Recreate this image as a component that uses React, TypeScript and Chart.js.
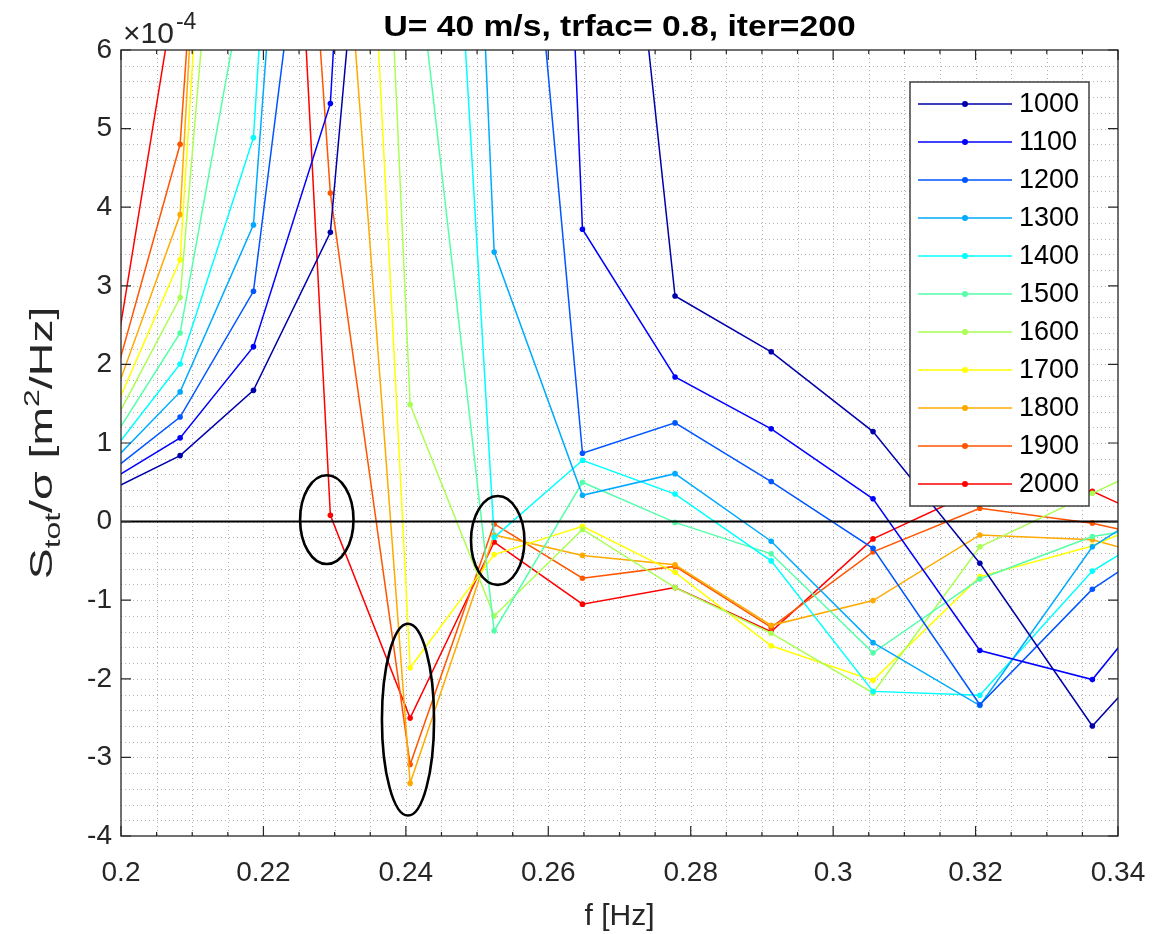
import React, { useEffect, useRef } from "react";
import { Chart, registerables } from "chart.js";

Chart.register(...registerables);

// Frequency bins [Hz]
const frequencies = [0.1985, 0.2083, 0.2186, 0.2294, 0.2406, 0.2524, 0.2648, 0.2778, 0.2913, 0.3056, 0.3206, 0.3364, 0.3529];

// S_tot / sigma for each case, in units of 1e-4 m^2/Hz
const s1000 = [0.40, 0.84, 1.67, 3.68, 15.0, 20.0, 13.9, 2.87, 2.16, 1.145, -0.53, -2.60, -0.96];
const s1100 = [0.525, 1.065, 2.226, 5.32, 23.1, 31.3, 3.72, 1.84, 1.18, 0.29, -1.64, -2.01, -0.17];
const s1200 = [0.632, 1.33, 2.93, 10.7, 18.0, 13.3, 0.87, 1.256, 0.51, -0.34, -2.33, -0.86, 0.13];
const s1300 = [0.735, 1.65, 3.775, 17.0, 28.4, 3.43, 0.335, 0.61, -0.25, -1.54, -2.34, -0.32, 0.62];
const s1400 = [0.855, 2.006, 4.885, 20.3, 18.0, -0.20, 0.78, 0.35, -0.50, -2.16, -2.21, -0.63, 0.29];
const s1500 = [0.996, 2.40, 7.54, 12.0, 7.96, -1.39, 0.50, -0.01, -0.41, -1.67, -0.73, -0.19, 0.05];
const s1600 = [1.164, 2.85, 13.9, 24.1, 1.49, -1.20, -0.10, -0.84, -1.42, -2.18, -0.32, 0.36, 1.06];
const s1700 = [1.29, 3.33, 18.1, 18.0, -1.86, -0.42, -0.06, -0.645, -1.58, -2.02, -0.70, -0.31, 0.33];
const s1800 = [1.446, 3.906, 20.5, 10.3, -3.33, -0.17, -0.43, -0.55, -1.32, -1.005, -0.17, -0.23, -0.64];
const s1900 = [1.616, 4.80, 18.3, 4.18, -3.09, -0.03, -0.72, -0.57, -1.345, -0.385, 0.17, -0.02, -0.36];
const s2000 = [1.69, 7.15, 18.96, 0.08, -2.50, -0.26, -1.05, -0.84, -1.40, -0.22, 0.41, 0.386, -0.30];

const seriesLabels = ["1000", "1100", "1200", "1300", "1400", "1500", "1600", "1700", "1800", "1900", "2000"];
const seriesValues = [s1000, s1100, s1200, s1300, s1400, s1500, s1600, s1700, s1800, s1900, s2000];
// jet(11) colour map
const seriesColors = [
  "#0000AA", "#0000FF", "#0055FF", "#00AAFF", "#00FFFF", "#55FFAA",
  "#AAFF55", "#FFFF00", "#FFAA00", "#FF5500", "#FF0000",
];

// Axes
const xMin = 0.2;
const xMax = 0.34;
const yMin = -4;
const yMax = 6;
const xTicks = [0.2, 0.22, 0.24, 0.26, 0.28, 0.3, 0.32, 0.34];
const xTickLabels = ["0.2", "0.22", "0.24", "0.26", "0.28", "0.3", "0.32", "0.34"];
const yTicks = [-4, -3, -2, -1, 0, 1, 2, 3, 4, 5, 6];
const yTickLabels = ["-4", "-3", "-2", "-1", "0", "1", "2", "3", "4", "5", "6"];
const xMinorStep = 0.005;
const yMinorStep = 0.2;

// Highlight ellipses: centre (f, value) and radii in axis units
const highlightCenters = [
  [0.2289, 0.025],
  [0.2403, -2.52],
  [0.2529, -0.24],
];
const highlightRadii = [
  [0.00375, 0.565],
  [0.00366, 1.22],
  [0.00375, 0.565],
];

const titleText = "U= 40 m/s, trfac= 0.8, iter=200";
const FONT = "'Liberation Sans', Arial, Helvetica, sans-serif";
const INK = "#262626";

const decorPlugin = {
  id: "decor",
  beforeDatasetsDraw(chart: any) {
    const { ctx, chartArea: a, scales } = chart;
    const x = scales.x;
    const y = scales.y;
    ctx.save();
    ctx.strokeStyle = "rgba(38,38,38,0.36)";
    ctx.lineWidth = 1;
    ctx.setLineDash([1, 3]);
    const nx = Math.round((xMax - xMin) / xMinorStep);
    for (let i = 1; i < nx; i++) {
      const px = Math.round(x.getPixelForValue(xMin + i * xMinorStep)) + 0.5;
      ctx.beginPath();
      ctx.moveTo(px, a.top);
      ctx.lineTo(px, a.bottom);
      ctx.stroke();
    }
    const ny = Math.round((yMax - yMin) / yMinorStep);
    for (let i = 1; i < ny; i++) {
      const py = Math.round(y.getPixelForValue(yMin + i * yMinorStep)) + 0.5;
      ctx.beginPath();
      ctx.moveTo(a.left, py);
      ctx.lineTo(a.right, py);
      ctx.stroke();
    }
    ctx.restore();
  },
  afterDatasetsDraw(chart: any) {
    const { ctx, chartArea: a, scales } = chart;
    const x = scales.x;
    const y = scales.y;
    ctx.save();

    // zero line
    const y0 = y.getPixelForValue(0);
    ctx.strokeStyle = "#000";
    ctx.lineWidth = 2;
    ctx.beginPath();
    ctx.moveTo(a.left, y0);
    ctx.lineTo(a.right, y0);
    ctx.stroke();

    // highlight ellipses
    ctx.lineWidth = 2.6;
    highlightCenters.forEach((c, i) => {
      const cx = x.getPixelForValue(c[0]);
      const cy = y.getPixelForValue(c[1]);
      const rx = Math.abs(x.getPixelForValue(c[0] + highlightRadii[i][0]) - cx);
      const ry = Math.abs(y.getPixelForValue(c[1] + highlightRadii[i][1]) - cy);
      ctx.beginPath();
      ctx.ellipse(cx, cy, rx, ry, 0, 0, Math.PI * 2);
      ctx.stroke();
    });

    // axes box
    ctx.strokeStyle = INK;
    ctx.lineWidth = 1.3;
    ctx.strokeRect(a.left, a.top, a.right - a.left, a.bottom - a.top);

    // tick marks (inward, all four sides)
    ctx.lineWidth = 1.2;
    ctx.beginPath();
    xTicks.forEach((v) => {
      const px = x.getPixelForValue(v);
      ctx.moveTo(px, a.bottom);
      ctx.lineTo(px, a.bottom - 10);
      ctx.moveTo(px, a.top);
      ctx.lineTo(px, a.top + 10);
    });
    yTicks.forEach((v) => {
      const py = y.getPixelForValue(v);
      ctx.moveTo(a.left, py);
      ctx.lineTo(a.left + 10, py);
      ctx.moveTo(a.right, py);
      ctx.lineTo(a.right - 10, py);
    });
    const nx = Math.round((xMax - xMin) / xMinorStep);
    for (let i = 1; i < nx; i++) {
      if (i % 4 === 0) continue;
      const px = x.getPixelForValue(xMin + i * xMinorStep);
      ctx.moveTo(px, a.bottom);
      ctx.lineTo(px, a.bottom - 4);
      ctx.moveTo(px, a.top);
      ctx.lineTo(px, a.top + 4);
    }
    ctx.stroke();

    // legend
    const lw = 179;
    const lh = 424;
    const lx = a.right - 29 - lw;
    const ly = a.top + 32;
    ctx.fillStyle = "#fff";
    ctx.fillRect(lx, ly, lw, lh);
    ctx.strokeStyle = INK;
    ctx.lineWidth = 1.3;
    ctx.strokeRect(lx, ly, lw, lh);
    ctx.font = `27px ${FONT}`;
    ctx.textBaseline = "middle";
    ctx.textAlign = "left";
    chart.data.datasets.forEach((ds: any, i: number) => {
      const ry = ly + 22 + i * 38;
      ctx.strokeStyle = ds.borderColor;
      ctx.lineWidth = 1.6;
      ctx.beginPath();
      ctx.moveTo(lx + 8, ry);
      ctx.lineTo(lx + 102, ry);
      ctx.stroke();
      ctx.fillStyle = ds.borderColor;
      ctx.beginPath();
      ctx.arc(lx + 55, ry, 3, 0, Math.PI * 2);
      ctx.fill();
      ctx.fillStyle = "#000";
      ctx.fillText(ds.label, lx + 109, ry + 1);
    });

    // title (slightly widened)
    const cxArea = (a.left + a.right) / 2;
    ctx.save();
    ctx.fillStyle = "#000";
    ctx.font = `bold 29px ${FONT}`;
    ctx.textAlign = "center";
    ctx.textBaseline = "alphabetic";
    ctx.translate(cxArea, 36);
    ctx.scale(1.16, 1);
    ctx.fillText(titleText, 0, 0);
    ctx.restore();

    // exponent label
    ctx.fillStyle = INK;
    ctx.textAlign = "left";
    ctx.textBaseline = "alphabetic";
    ctx.font = `30px ${FONT}`;
    ctx.fillText("\u00d710", a.left + 2, 43);
    const w10 = ctx.measureText("\u00d710").width;
    ctx.font = `23px ${FONT}`;
    ctx.fillText("-4", a.left + 4 + w10, 29);

    // x axis label
    ctx.font = `30px ${FONT}`;
    ctx.textAlign = "center";
    ctx.fillText("f [Hz]", cxArea, 925);

    // y axis label (rotated, with subscript and superscript, stretched along the text)
    const stretch = 1.45;
    const parts: [string, number, number][] = [
      ["S", 32, 0],
      ["tot", 22, 8],
      ["/\u03c3 [m", 32, 0],
      ["2", 22, -13],
      ["/Hz]", 32, 0],
    ];
    let total = 0;
    parts.forEach(([t, s]) => {
      ctx.font = `${s}px ${FONT}`;
      total += ctx.measureText(t).width;
    });
    ctx.translate(52, (a.top + a.bottom) / 2);
    ctx.rotate(-Math.PI / 2);
    ctx.scale(stretch, 1);
    ctx.textAlign = "left";
    let cur = -total / 2;
    parts.forEach(([t, s, dy]) => {
      ctx.font = `${s}px ${FONT}`;
      ctx.fillText(t, cur, dy);
      cur += ctx.measureText(t).width;
    });

    ctx.restore();
  },
};

export default function App() {
  const canvasRef = useRef<HTMLCanvasElement | null>(null);

  useEffect(() => {
    const canvas = canvasRef.current;
    if (!canvas) return;
    const chart = new Chart(canvas, {
      type: "line",
      data: {
        datasets: seriesValues.map((vals, i) => ({
          label: seriesLabels[i],
          data: frequencies.map((f, j) => ({ x: f, y: vals[j] })),
          borderColor: seriesColors[i],
          backgroundColor: seriesColors[i],
          pointBackgroundColor: seriesColors[i],
          borderWidth: 1.5,
          pointRadius: 2.8,
          pointBorderWidth: 0,
          pointHoverRadius: 2.8,
          tension: 0,
          fill: false,
          clip: 0,
        })),
      },
      options: {
        responsive: false,
        animation: false,
        devicePixelRatio: 1,
        events: [],
        layout: { padding: { top: 50, right: 37, left: 0, bottom: 0 } },
        plugins: {
          legend: { display: false },
          title: { display: false },
          tooltip: { enabled: false },
        },
        scales: {
          x: {
            type: "linear",
            min: xMin,
            max: xMax,
            afterBuildTicks: (scale: any) => {
              scale.ticks = xTicks.map((v) => ({ value: v }));
            },
            afterFit: (scale: any) => {
              scale.height = 98;
              scale.paddingLeft = 0;
              scale.paddingRight = 0;
            },
            grid: { display: false, drawTicks: false },
            border: { display: false },
            ticks: {
              autoSkip: false,
              maxRotation: 0,
              padding: 20,
              color: INK,
              font: { family: FONT, size: 28 },
              callback: (_v: any, i: number) => xTickLabels[i],
            },
          },
          y: {
            type: "linear",
            min: yMin,
            max: yMax,
            afterBuildTicks: (scale: any) => {
              scale.ticks = yTicks.map((v) => ({ value: v }));
            },
            afterFit: (scale: any) => {
              scale.width = 121;
              scale.paddingTop = 0;
              scale.paddingBottom = 0;
            },
            grid: { display: false, drawTicks: false },
            border: { display: false },
            ticks: {
              autoSkip: false,
              padding: 9,
              color: INK,
              font: { family: FONT, size: 28 },
              callback: (_v: any, i: number) => yTickLabels[i],
            },
          },
        },
      },
      plugins: [decorPlugin],
    });
    return () => chart.destroy();
  }, []);

  return (
    <div style={{ position: "fixed", left: 0, top: 0, width: 1155, height: 934, background: "#fff" }}>
      <canvas ref={canvasRef} width={1155} height={934} style={{ display: "block" }} />
    </div>
  );
}
